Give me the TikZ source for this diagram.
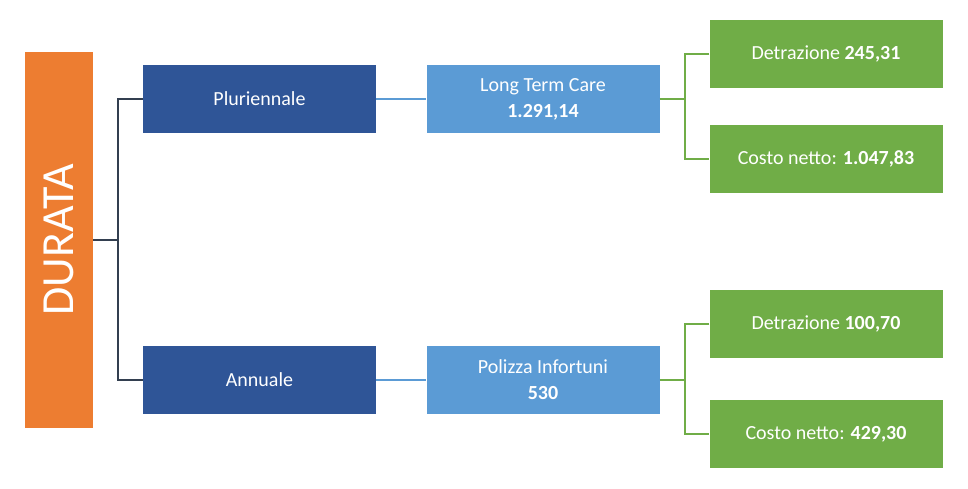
\documentclass[tikz,border=0pt]{standalone}
\usepackage{fontspec}
\setmainfont{Carlito}
\usetikzlibrary{positioning}
\definecolor{durata}{HTML}{ED7D31}
\definecolor{darkbox}{HTML}{2F5597}
\definecolor{lightbox}{HTML}{5B9BD5}
\definecolor{greenbox}{HTML}{70AD47}
\definecolor{darkline}{HTML}{333F50}
\tikzset{
  box/.style={minimum width=233pt,minimum height=68pt,text=white,font=\fontsize{20}{26}\selectfont,inner sep=0pt,align=center},
  tipo/.style={box,fill=darkbox},
  polizza/.style={box,fill=lightbox},
  esito/.style={box,fill=greenbox},
}
\begin{document}
\begin{tikzpicture}[x=1pt,y=-1pt]
  \useasboundingbox (0,0) rectangle (968,489);
  \node[fill=durata,minimum width=68pt,minimum height=376pt,inner sep=0pt] (dur) at (59,240)
    {\rotatebox{90}{\textcolor{white}{\fontsize{46}{50}\selectfont DURATA}}};
  \node[tipo] (plur) at (259.5,99) {Pluriennale};
  \node[tipo] (ann) at (259.5,380) {Annuale};
  \node[polizza] (ltc) at (543,99) {Long Term Care\\\textbf{1.291,14}};
  \node[polizza] (inf) at (543,380) {Polizza Infortuni\\\textbf{530}};
  \node[esito] (d1) at (826,54) {Detrazione \textbf{245,31}};
  \node[esito] (c1) at (826,159) {Costo netto: \textbf{1.047,83}};
  \node[esito] (d2) at (826,324) {Detrazione \textbf{100,70}};
  \node[esito] (c2) at (826,434) {Costo netto: \textbf{429,30}};
  % connectors
  \coordinate (j0) at (118,240);
  \draw[darkline,line width=1.5pt] (dur.east) -- (j0);
  \draw[darkline,line width=1.5pt] (plur.west) -| (j0) |- (ann.west);
  \draw[lightbox,line width=1.5pt] (plur) -- (ltc);
  \draw[lightbox,line width=1.5pt] (ann) -- (inf);
  \coordinate (j1) at (685,99);
  \coordinate (j2) at (685,380);
  \draw[greenbox,line width=1.5pt] (ltc.east) -- (j1);
  \draw[greenbox,line width=1.5pt] (d1.west) -| (j1) |- (c1.west);
  \draw[greenbox,line width=1.5pt] (inf.east) -- (j2);
  \draw[greenbox,line width=1.5pt] (d2.west) -| (j2) |- (c2.west);
\end{tikzpicture}
\end{document}
